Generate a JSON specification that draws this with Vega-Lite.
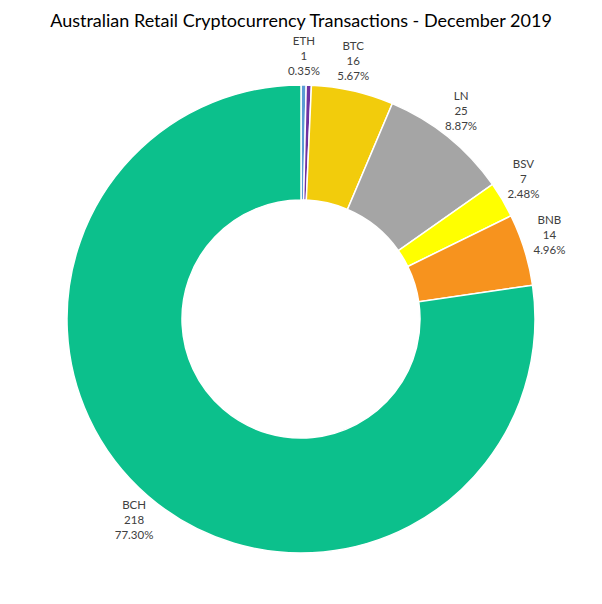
{
  "$schema": "https://vega.github.io/schema/vega-lite/v6.json",
  "width": 602,
  "height": 562,
  "autosize": {"type": "none"},
  "padding": {"top": 38, "left": 0, "right": 0, "bottom": 4},
  "background": "white",
  "title": {
    "text": "Australian Retail Cryptocurrency Transactions - December 2019",
    "font": "Lato",
    "fontSize": 18,
    "fontWeight": "normal",
    "color": "#000000",
    "frame": "group",
    "anchor": "middle",
    "offset": 5
  },
  "data": {
    "values": [
      {"coin": "ETH", "value": 1, "pct": 0.0035, "seq": 1, "lab": "ETH"},
      {"coin": "Other", "value": 1, "pct": 0.0035, "seq": 2, "lab": ""},
      {"coin": "BTC", "value": 16, "pct": 0.0567, "seq": 3, "lab": "BTC"},
      {"coin": "LN", "value": 25, "pct": 0.0887, "seq": 4, "lab": "LN"},
      {"coin": "BSV", "value": 7, "pct": 0.0248, "seq": 5, "lab": "BSV"},
      {"coin": "BNB", "value": 14, "pct": 0.0496, "seq": 6, "lab": "BNB"},
      {"coin": "BCH", "value": 218, "pct": 0.7730, "seq": 7, "lab": "BCH"}
    ]
  },
  "encoding": {
    "theta": {"field": "value", "type": "quantitative", "stack": true},
    "order": {"field": "seq", "type": "quantitative", "sort": "ascending"}
  },
  "layer": [
    {
      "mark": {"type": "arc", "outerRadius": 234, "innerRadius": 119, "stroke": "white", "strokeWidth": 1.5},
      "encoding": {
        "color": {
          "field": "coin",
          "type": "nominal",
          "scale": {
            "domain": ["ETH", "Other", "BTC", "LN", "BSV", "BNB", "BCH"],
            "range": ["#5B9BD5", "#7030A0", "#F2CC0C", "#A5A5A5", "#FFFF00", "#F7931E", "#0CC08C"]
          },
          "legend": null
        }
      }
    },
    {
      "transform": [{"filter": "datum.lab != ''"}],
      "mark": {"type": "text", "radius": 262, "dy": -15, "font": "Lato", "fontSize": 11.5, "color": "#404040"},
      "encoding": {"text": {"field": "lab"}}
    },
    {
      "transform": [{"filter": "datum.lab != ''"}],
      "mark": {"type": "text", "radius": 262, "dy": 0, "font": "Lato", "fontSize": 11.5, "color": "#404040"},
      "encoding": {"text": {"field": "value", "type": "quantitative"}}
    },
    {
      "transform": [{"filter": "datum.lab != ''"}],
      "mark": {"type": "text", "radius": 262, "dy": 15, "font": "Lato", "fontSize": 11.5, "color": "#404040"},
      "encoding": {"text": {"field": "pct", "type": "quantitative", "format": ".2%"}}
    }
  ]
}
